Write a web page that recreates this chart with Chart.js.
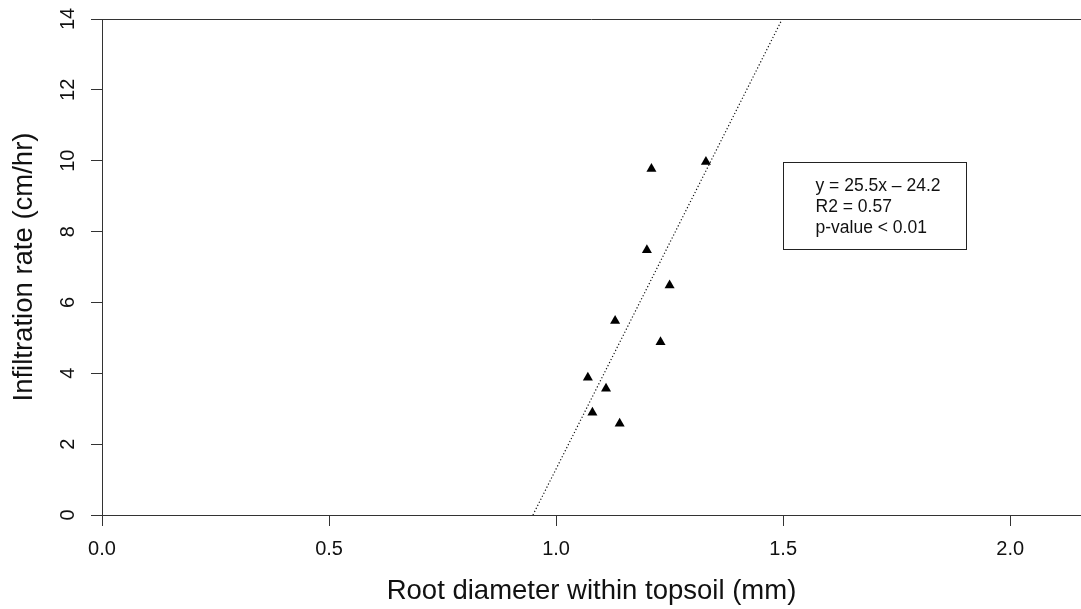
<!DOCTYPE html>
<html>
<head>
<meta charset="utf-8">
<title>Infiltration rate vs root diameter</title>
<script src="https://cdn.jsdelivr.net/npm/chart.js@4.4.1/dist/chart.umd.min.js"></script>
<style>
  html, body { margin: 0; padding: 0; background: #ffffff; }
  #wrap { width: 1081px; height: 609px; position: relative; }
</style>
</head>
<body>
<div id="wrap"><canvas id="chart" width="1081" height="609"></canvas></div>
<script>
// Observations: mean root diameter in topsoil (mm) and infiltration rate (cm/hr)
const rootDiameter = [1.07, 1.08, 1.11, 1.13, 1.14, 1.20, 1.21, 1.23, 1.25, 1.33];
const infiltration = [3.88, 2.89, 3.57, 5.48, 2.58, 7.48, 9.77, 4.88, 6.48, 9.97];

// Fitted linear model y = slope * x + intercept
const slope = 25.5;
const intercept = -24.2;
const statsLines = ['y = 25.5x \u2013 24.2', 'R2 = 0.57', 'p-value < 0.01'];

// Axis ticks
const xTicks = [0.0, 0.5, 1.0, 1.5, 2.0];
const yTicks = [0, 2, 4, 6, 8, 10, 12, 14];
const xRange = [0, 2.156];
const yRange = [0, 14];

const FONT = "'Liberation Sans', Arial, Helvetica, sans-serif";
const AXIS_COLOR = '#333333';

const points = rootDiameter.map((x, i) => ({ x: x, y: infiltration[i] }));

// Fitted line spans the y range of the plot
const fitLine = [
  { x: (yRange[0] - intercept) / slope, y: yRange[0] },
  { x: (yRange[1] - intercept) / slope, y: yRange[1] }
];

// Frame line along the top and the statistics box
const framePlugin = {
  id: 'frame',
  afterDraw(chart) {
    const { ctx, chartArea, scales } = chart;
    ctx.save();
    ctx.strokeStyle = AXIS_COLOR;
    ctx.lineWidth = 1;
    ctx.beginPath();
    ctx.moveTo(chartArea.left, chartArea.top + 0.5);
    ctx.lineTo(chartArea.right, chartArea.top + 0.5);
    ctx.stroke();

    // statistics box, anchored in data units
    const x0 = Math.round(scales.x.getPixelForValue(1.5)) + 0.5;
    const x1 = Math.round(scales.x.getPixelForValue(1.903)) + 0.5;
    const y0 = Math.round(scales.y.getPixelForValue(9.96)) + 0.5;
    const y1 = Math.round(scales.y.getPixelForValue(7.5)) + 0.5;
    ctx.strokeStyle = '#222222';
    ctx.strokeRect(x0, y0, x1 - x0, y1 - y0);

    ctx.fillStyle = '#111111';
    ctx.font = '17.5px ' + FONT;
    ctx.textAlign = 'left';
    ctx.textBaseline = 'middle';
    statsLines.forEach((t, i) => {
      ctx.fillText(t, x0 + 32, y0 + 24 + i * 21);
    });
    ctx.restore();
  }
};

new Chart(document.getElementById('chart'), {
  type: 'scatter',
  data: {
    datasets: [
      {
        label: 'Observations',
        data: points,
        pointStyle: 'triangle',
        pointRadius: 5.8,
        pointHoverRadius: 5.8,
        pointBackgroundColor: '#000000',
        pointBorderColor: '#000000',
        pointBorderWidth: 0,
        order: 1
      },
      {
        label: 'Linear fit',
        type: 'line',
        data: fitLine,
        borderColor: '#111111',
        borderWidth: 1.2,
        borderDash: [1.2, 2.2],
        pointRadius: 0,
        fill: false,
        order: 2
      }
    ]
  },
  options: {
    responsive: false,
    animation: false,
    devicePixelRatio: 1,
    layout: { autoPadding: false, padding: { top: 19, right: 0, left: 0, bottom: 0 } },
    plugins: {
      legend: { display: false },
      tooltip: { enabled: false }
    },
    scales: {
      x: {
        type: 'linear',
        min: xRange[0],
        max: xRange[1],
        afterBuildTicks(scale) { scale.ticks = xTicks.map(v => ({ value: v })); },
        afterFit(scale) {
          scale.height = 94;
          scale.paddingLeft = 0;
          scale.paddingRight = 0;
        },
        border: { display: true, color: AXIS_COLOR, width: 1 },
        grid: { display: true, drawOnChartArea: false, drawTicks: true, tickLength: 11, color: AXIS_COLOR },
        ticks: {
          color: '#111111',
          font: { family: FONT, size: 20 },
          padding: 11,
          includeBounds: false,
          maxRotation: 0,
          callback: v => Number(v).toFixed(1)
        },
        title: {
          display: true,
          text: 'Root diameter within topsoil (mm)',
          color: '#111111',
          font: { family: FONT, size: 27.5 },
          padding: { top: 0, bottom: 1 }
        }
      },
      y: {
        type: 'linear',
        min: yRange[0],
        max: yRange[1],
        afterBuildTicks(scale) { scale.ticks = yTicks.map(v => ({ value: v })); },
        afterFit(scale) {
          scale.width = 102;
          scale.paddingTop = 0;
          scale.paddingBottom = 0;
        },
        border: { display: true, color: AXIS_COLOR, width: 1 },
        grid: { display: true, drawOnChartArea: false, drawTicks: true, tickLength: 11, color: AXIS_COLOR },
        ticks: {
          color: '#111111',
          font: { family: FONT, size: 20 },
          padding: 11,
          minRotation: 90,
          maxRotation: 90,
          crossAlign: 'center',
          callback: v => String(v)
        },
        title: {
          display: true,
          text: 'Infiltration rate (cm/hr)',
          color: '#111111',
          font: { family: FONT, size: 27.5 },
          padding: { top: 7.5, bottom: 0 }
        }
      }
    }
  },
  plugins: [framePlugin]
});
</script>
</body>
</html>
